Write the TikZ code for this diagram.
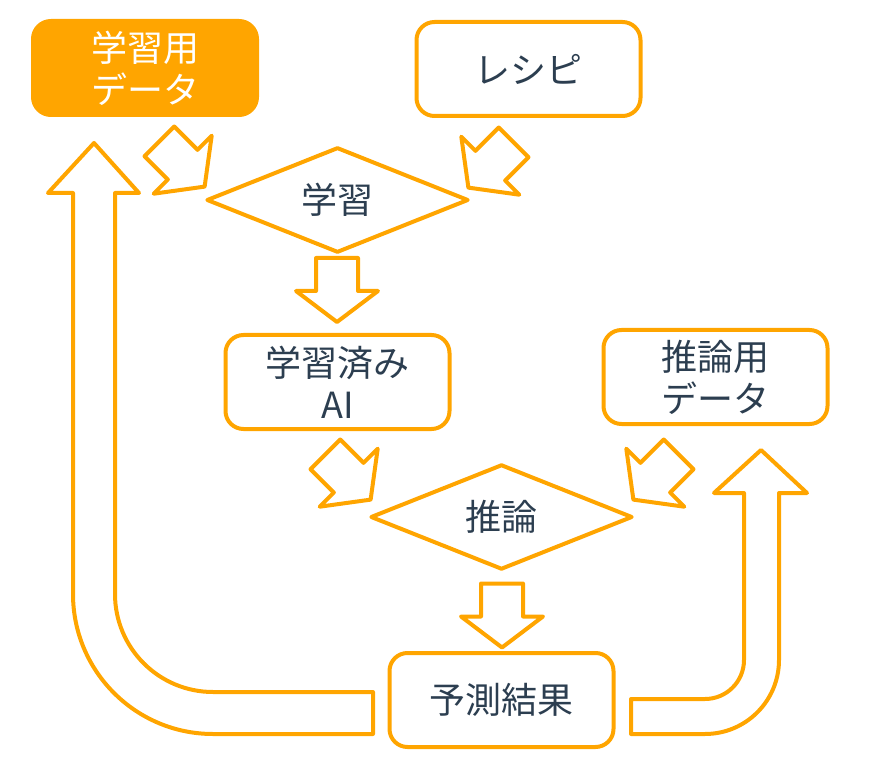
\documentclass[tikz,border=0pt]{standalone}
\usepackage{fontspec}
\setmainfont{Noto Sans CJK JP}
\usepackage{tikz}
\usetikzlibrary{shapes.geometric}
\definecolor{aorange}{HTML}{FFA500}
\definecolor{ink}{HTML}{2C3E50}

\tikzset{
  flow/.style={draw=aorange, line width=4pt, line join=round},
  box/.style={flow, rectangle, rounded corners=18pt, minimum width=224pt, minimum height=94pt,
    inner sep=0pt, align=center, text=ink, font=\fontsize{36}{42}\selectfont},
  decide/.style={flow, diamond, minimum width=262pt, minimum height=95pt, inner sep=0pt,
    text=ink, font=\fontsize{36}{42}\selectfont},
  blockarrow/.pic={\draw[flow] (-21,32) -- (21,32) -- (21,-1) -- (41,-1) -- (0,-32) -- (-41,-1) -- (-21,-1) -- cycle;}
}

\begin{document}
\begin{tikzpicture}[x=1pt, y=1pt]
         \useasboundingbox (0,0) rectangle (870,-775);

         % boxes
         \node[box, fill=aorange, text=white] (train) at (145,-68) {学習用\\データ};
         \node[box] (recipe) at (528.5,-69) {レシピ};
         \node[decide] (learn) at (337.5,-200) {学習};
         \node[box] (trained) at (337.5,-382) {学習済み\\AI};
         \node[box] (inferdata) at (715.5,-377) {推論用\\データ};
         \node[decide] (infer) at (501.5,-517) {推論};
         \node[box] (result) at (501.5,-700) {予測結果};

         % coords
         \coordinate (A1) at (182,-164);
         \coordinate (A2) at (491,-165);
         \coordinate (A3) at (337,-290);
         \coordinate (A4) at (348,-477);
         \coordinate (A5) at (656,-477);
         \coordinate (A6) at (502,-615.5);

         % block arrows
         \pic[rotate=45] at (A1) {blockarrow};
         \pic[rotate=-45] at (A2) {blockarrow};
         \pic at (A3) {blockarrow};
         \pic[rotate=45] at (A4) {blockarrow};
         \pic[rotate=-45] at (A5) {blockarrow};
         \pic at (A6) {blockarrow};

         % back to the training data
         \draw[flow] (373,-692) -- (213,-692) arc[start angle=-90, end angle=-180, radius=98]
           -- (115,-193) -- (139,-193) -- (94,-143) -- (48,-193) -- (73,-193)
           -- (73,-594) arc[start angle=180, end angle=270, radius=140] -- (373,-734) -- cycle;

         % on to the inference data
         \draw[flow] (631,-699) -- (705,-699) arc[start angle=-90, end angle=0, radius=39]
           -- (744,-493) -- (714,-493) -- (761,-450) -- (807,-493) -- (779,-493)
           -- (779,-660) arc[start angle=0, end angle=-90, radius=74] -- (631,-734) -- cycle;
      \end{tikzpicture}
\end{document}
